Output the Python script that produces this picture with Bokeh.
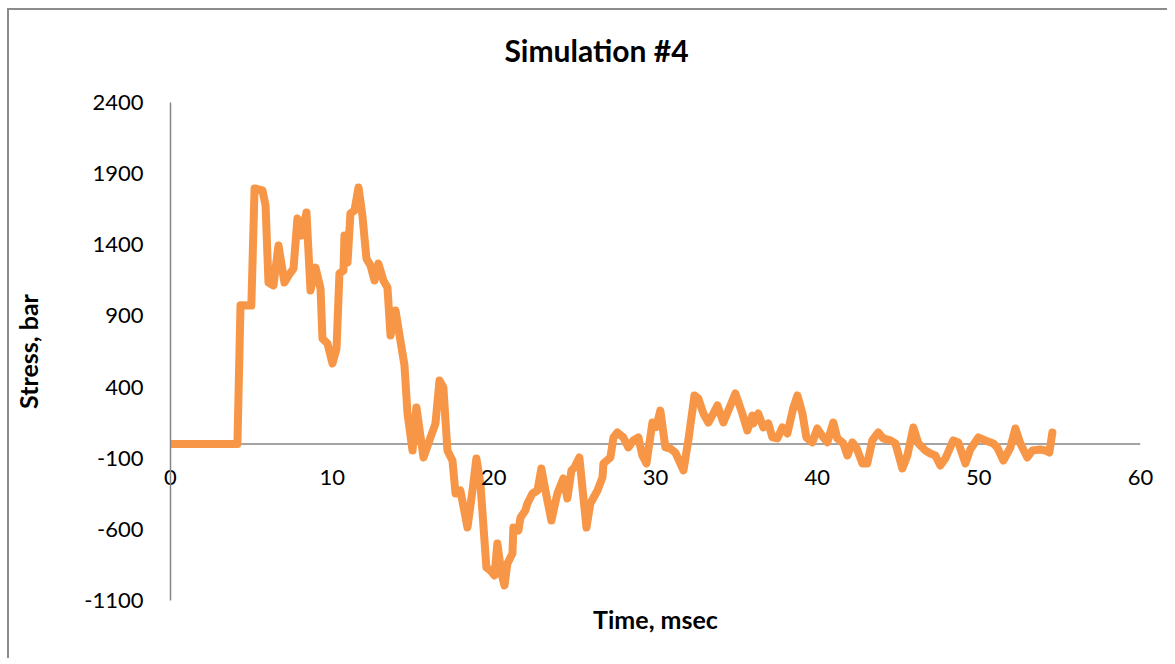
from bokeh.plotting import figure
from bokeh.models import Range1d, FixedTicker, LinearAxis, Span, Label
from bokeh.embed import file_html
from bokeh.resources import INLINE

# ---- data ----
time_ms = [0, 4.14, 4.33, 5.00, 5.20, 5.69, 5.88, 6.06, 6.37, 6.68, 7.05, 7.30, 7.61, 7.85,
           8.10, 8.41, 8.66, 8.97, 9.28, 9.40, 9.71, 10.02, 10.27, 10.45, 10.70, 10.76, 10.95,
           11.13, 11.38, 11.63, 11.87, 12.12, 12.37, 12.62, 12.86, 13.17, 13.42, 13.61, 13.92,
           14.22, 14.47, 14.66, 14.97, 15.21, 15.65, 16.08, 16.39, 16.64, 16.88, 17.13, 17.44,
           17.63, 17.93, 18.37, 18.68, 18.92, 19.17, 19.54, 19.79, 20.04, 20.22, 20.47, 20.66,
           20.84, 21.15, 21.21, 21.52, 21.65, 21.95, 22.08, 22.39, 22.70, 22.94, 23.19, 23.56,
           23.93, 24.30, 24.55, 24.80, 24.98, 25.29, 25.73, 25.97, 26.41, 26.72, 26.78, 27.21,
           27.40, 27.64, 28.01, 28.32, 28.63, 28.94, 29.19, 29.44, 29.81, 30.05, 30.30, 30.61,
           30.92, 31.23, 31.73, 32.03, 32.41, 32.65, 32.96, 33.27, 33.58, 33.83, 34.20, 34.94,
           35.37, 35.68, 35.99, 36.05, 36.36, 36.67, 36.98, 37.23, 37.54, 37.85, 38.16, 38.53,
           38.78, 39.09, 39.33, 39.70, 40.01, 40.20, 40.63, 41.00, 41.25, 41.62, 41.87, 42.18,
           42.42, 42.80, 43.10, 43.41, 43.78, 44.09, 44.53, 44.84, 45.27, 45.58, 45.95, 46.26,
           46.69, 47.00, 47.31, 47.62, 47.93, 48.42, 48.73, 49.17, 49.47, 49.97, 50.40, 50.90,
           51.14, 51.52, 51.95, 52.26, 52.57, 53.00, 53.31, 53.80, 54.11, 54.36, 54.55]
stress_bar = [0, 0, 975, 973, 1796, 1782, 1676, 1135, 1114, 1395, 1135, 1184, 1233, 1585,
              1465, 1627, 1079, 1240, 1093, 741, 706, 566, 671, 1198, 1219, 1465, 1276,
              1620, 1641, 1803, 1606, 1304, 1254, 1149, 1268, 1149, 1100, 762, 938,
              727, 555, 214, -46, 257, -95, 46, 144, 446, 397, -46, -116,
              -348, -327, -587, -327, -102, -278, -868, -889, -924, -699, -910, -994,
              -840, -770, -587, -608, -517, -467, -418, -348, -327, -172, -327, -538,
              -348, -242, -383, -186, -165, -95, -587, -418, -327, -235, -137, -95,
              46, 81, 46, -24, 25, 46, -81, -137, 151, 120, 235, -24,
              -32, -60, -186, 25, 341, 320, 214, 151, 214, 271, 151, 355,
              214, 95, 200, 144, 214, 116, 144, 46, 39, 116, 74, 257,
              341, 214, 46, 11, 109, 74, 11, 151, 39, 4, -81, 11,
              -24, -137, -137, 25, 81, 39, 25, 4, -172, -81, 116, 4,
              -46, -67, -81, -151, -102, 25, 11, -137, -39, 46, 25, 4,
              -25, -116, -25, 109, 4, -95, -46, -39, -46, -60, 81]

x_ticks = [0, 10, 20, 30, 40, 50, 60]
y_ticks = [-1100, -600, -100, 400, 900, 1400, 1900, 2400]

title_text = "Simulation #4"
x_label = "Time, msec"
y_label = "Stress, bar"

FONT = "Lato"
AXIS_COLOR = "#868686"
LINE_COLOR = "#F79646"

p = figure(width=1160, height=650, output_backend="svg", toolbar_location=None,
           x_range=Range1d(0, 60), y_range=Range1d(-1100, 2400),
           x_axis_location=None, y_axis_location="left",
           min_border_left=161, min_border_right=29, min_border_top=92, min_border_bottom=60)
p.styles = {"margin-left": "7px", "margin-top": "8px",
            "border-left": "2px solid #8c8c8c", "border-top": "2px solid #8c8c8c"}
p.outline_line_color = None
p.background_fill_color = "white"
p.border_fill_color = "white"
p.grid.visible = False
p.title.text = ""

# chart title in the top panel, centred over the whole chart
title = Label(x=426, y=53, x_units="screen", y_units="screen", text=title_text,
              text_align="center", text_baseline="middle", text_font=FONT,
              text_font_style="bold", text_font_size="30px", text_color="#000000")
p.add_layout(title, "above")

# y axis
ya = p.yaxis[0]
ya.ticker = FixedTicker(ticks=y_ticks)
ya.major_label_overrides = {t: str(t) for t in y_ticks}
ya.axis_line_color = AXIS_COLOR
ya.axis_line_width = 1.5
ya.major_tick_line_color = None
ya.minor_tick_line_color = None
ya.major_tick_out = 0
ya.major_tick_in = 0
ya.minor_tick_out = 0
ya.major_label_text_font = FONT
ya.major_label_text_font_size = "22px"
ya.major_label_text_color = "#000000"
ya.major_label_standoff = 27
ya.axis_label = y_label
ya.axis_label_text_font = FONT
ya.axis_label_text_font_style = "bold"
ya.axis_label_text_font_size = "25px"
ya.axis_label_text_color = "#000000"
ya.axis_label_standoff = 38

# horizontal axis line through y = 0
zero_line = Span(location=0, dimension="width", line_color=AXIS_COLOR, line_width=1.5,
                 level="underlay")
p.add_layout(zero_line)

# x axis: labels drawn just below the y = 0 line, title below the plot area
xa = LinearAxis(ticker=FixedTicker(ticks=x_ticks))
xa.axis_line_color = None
xa.major_tick_line_color = None
xa.minor_tick_line_color = None
xa.major_tick_out = 0
xa.major_tick_in = 0
xa.minor_tick_out = 0
xa.major_label_text_font = FONT
xa.major_label_text_font_size = "22px"
xa.major_label_text_color = "#000000"
xa.major_label_standoff = -131
xa.axis_label = x_label
xa.axis_label_text_font = FONT
xa.axis_label_text_font_style = "bold"
xa.axis_label_text_font_size = "25px"
xa.axis_label_text_color = "#000000"
xa.axis_label_standoff = 116
p.add_layout(xa, "below")

p.line(time_ms, stress_bar, line_color=LINE_COLOR, line_width=8,
       line_join="round", line_cap="round")

open("out.html", "w").write(file_html(p, INLINE))
